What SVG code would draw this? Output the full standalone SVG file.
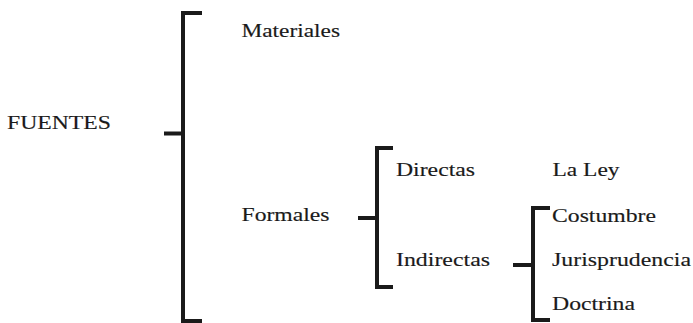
<svg xmlns="http://www.w3.org/2000/svg" width="693" height="323" viewBox="0 0 693 323">
<style>
text{font-family:"Liberation Serif","Times New Roman",serif;font-size:18.5px;fill:#1a1a1a;stroke:#1a1a1a;stroke-width:0.15}
.br{fill:none;stroke:#1a1a1a;stroke-width:4;stroke-linecap:butt;stroke-linejoin:miter}
</style>
<rect width="693" height="323" fill="#ffffff"/>
<g id="connectors">
<path class="br" d="M202,13 H183 V321 H202 M164,133.5 H183"/>
<path class="br" d="M393,148 H377 V287 H393 M358,218 H377"/>
<path class="br" d="M550,208 H533 V320 H550 M513,265 H533"/>
</g>
<g id="fuentes"><text x="7" y="129" textLength="104" lengthAdjust="spacingAndGlyphs">FUENTES</text></g>
<g id="materiales"><text x="241.5" y="37" textLength="98.5" lengthAdjust="spacingAndGlyphs">Materiales</text></g>
<g id="formales"><text x="241.5" y="221" textLength="88" lengthAdjust="spacingAndGlyphs">Formales</text></g>
<g id="directas"><text x="396" y="175.5" textLength="79" lengthAdjust="spacingAndGlyphs">Directas</text></g>
<g id="indirectas"><text x="396" y="265.5" textLength="94" lengthAdjust="spacingAndGlyphs">Indirectas</text></g>
<g id="laley"><text x="552.5" y="176" textLength="67" lengthAdjust="spacingAndGlyphs">La Ley</text></g>
<g id="costumbre"><text x="552" y="221.5" textLength="104" lengthAdjust="spacingAndGlyphs">Costumbre</text></g>
<g id="jurisprudencia"><text x="552" y="265.5" textLength="139" lengthAdjust="spacingAndGlyphs">Jurisprudencia</text></g>
<g id="doctrina"><text x="552" y="310" textLength="83" lengthAdjust="spacingAndGlyphs">Doctrina</text></g>
</svg>
